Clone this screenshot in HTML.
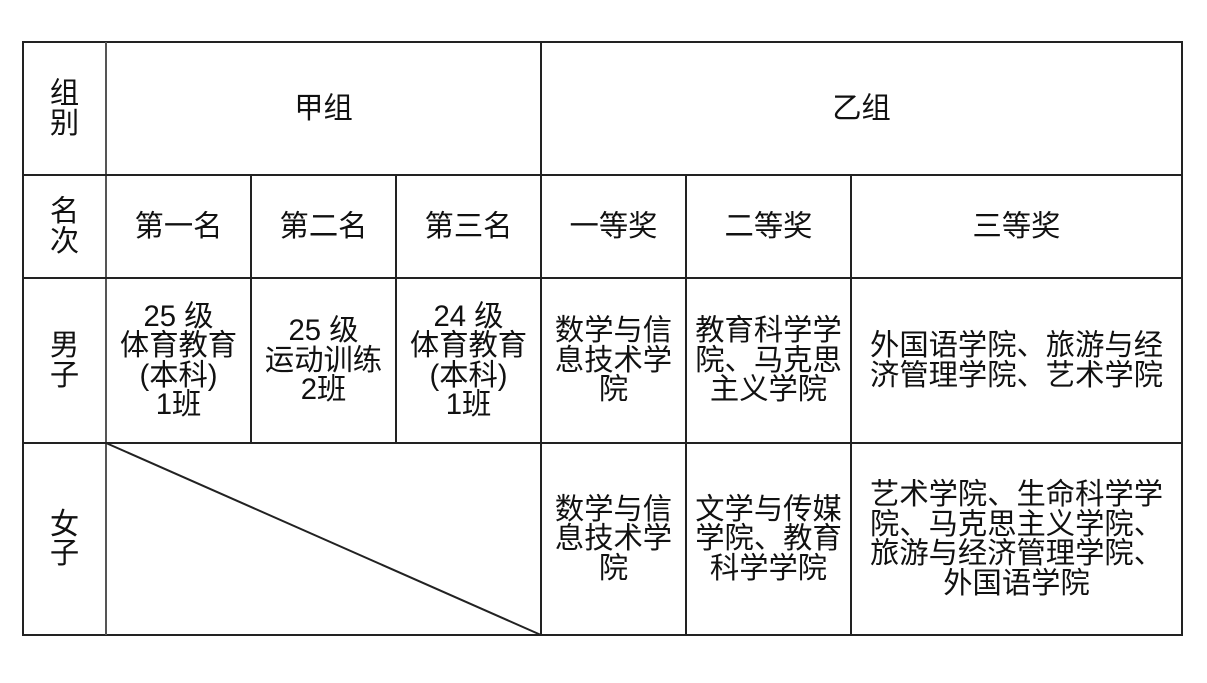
<!DOCTYPE html>
<html><head><meta charset="utf-8"><style>
body{margin:0;width:1207px;height:683px;background:#fff;position:relative;overflow:hidden;font-family:"Liberation Sans","Noto Sans CJK SC",sans-serif;color:#111}
.c{position:absolute;display:flex;align-items:center;justify-content:center;text-align:center;font-size:29.3px;line-height:29.5px;font-weight:400;white-space:nowrap}
svg{position:absolute;left:0;top:0}
</style></head><body>
<svg width="1207" height="683">
<g stroke="#222" stroke-width="2" fill="none">
<rect x="23" y="42" width="1159" height="593"/>
<line x1="106" y1="42" x2="106" y2="635" stroke="#555"/>
<line x1="541" y1="42" x2="541" y2="635"/>
<line x1="23" y1="175" x2="1182" y2="175"/>
<line x1="23" y1="278" x2="1182" y2="278"/>
<line x1="23" y1="443" x2="1182" y2="443"/>
<line x1="251" y1="175" x2="251" y2="443"/>
<line x1="396" y1="175" x2="396" y2="443"/>
<line x1="686" y1="175" x2="686" y2="635"/>
<line x1="851" y1="175" x2="851" y2="635"/>
<line x1="106" y1="443" x2="541" y2="635"/>
</g></svg>
<div class="c" style="left:23px;top:42px;width:83px;height:133px">组<br>别</div>
<div class="c" style="left:106px;top:42px;width:435px;height:133px">甲组</div>
<div class="c" style="left:541px;top:42px;width:641px;height:133px">乙组</div>
<div class="c" style="left:23px;top:175px;width:83px;height:103px">名<br>次</div>
<div class="c" style="left:106px;top:175px;width:145px;height:103px">第一名</div>
<div class="c" style="left:251px;top:175px;width:145px;height:103px">第二名</div>
<div class="c" style="left:396px;top:175px;width:145px;height:103px">第三名</div>
<div class="c" style="left:541px;top:175px;width:145px;height:103px">一等奖</div>
<div class="c" style="left:686px;top:175px;width:165px;height:103px">二等奖</div>
<div class="c" style="left:851px;top:175px;width:331px;height:103px">三等奖</div>
<div class="c" style="left:23px;top:278px;width:83px;height:165px">男<br>子</div>
<div class="c" style="left:106px;top:278px;width:145px;height:165px">25 级<br>体育教育<br>(本科)<br>1班</div>
<div class="c" style="left:251px;top:278px;width:145px;height:165px">25 级<br>运动训练<br>2班</div>
<div class="c" style="left:396px;top:278px;width:145px;height:165px">24 级<br>体育教育<br>(本科)<br>1班</div>
<div class="c" style="left:541px;top:278px;width:145px;height:165px">数学与信<br>息技术学<br>院</div>
<div class="c" style="left:686px;top:278px;width:165px;height:165px">教育科学学<br>院、马克思<br>主义学院</div>
<div class="c" style="left:851px;top:278px;width:331px;height:165px">外国语学院、旅游与经<br>济管理学院、艺术学院</div>
<div class="c" style="left:23px;top:443px;width:83px;height:192px">女<br>子</div>
<div class="c" style="left:541px;top:443px;width:145px;height:192px">数学与信<br>息技术学<br>院</div>
<div class="c" style="left:686px;top:443px;width:165px;height:192px">文学与传媒<br>学院、教育<br>科学学院</div>
<div class="c" style="left:851px;top:443px;width:331px;height:192px">艺术学院、生命科学学<br>院、马克思主义学院、<br>旅游与经济管理学院、<br>外国语学院</div>
</body></html>
